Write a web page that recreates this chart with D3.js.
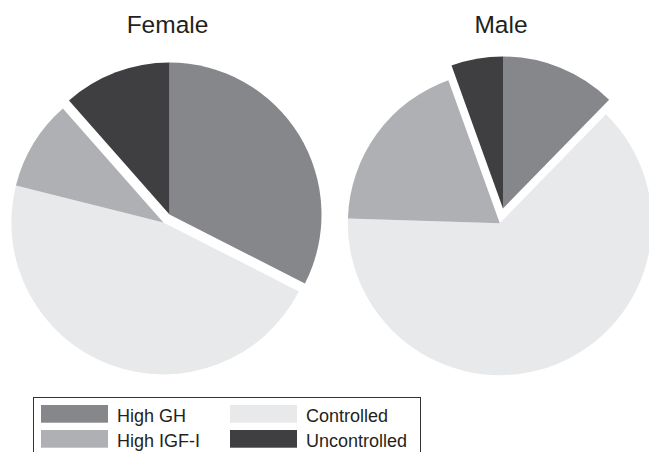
<!DOCTYPE html>
<html>
<head>
<meta charset="utf-8">
<script src="https://cdn.jsdelivr.net/npm/d3@7"></script>
<style>
  html, body { margin: 0; padding: 0; background: #fff; }
  svg { display: block; font-family: "Liberation Sans", Arial, sans-serif; }
</style>
</head>
<body>
<svg id="chart"></svg>
<script>
// categories in drawing order (clockwise from 12 o'clock)
const categories = ["High GH", "Controlled", "High IGF-I", "Uncontrolled"];
const colors = ["#86878b", "#e8e9eb", "#afb0b3", "#3f3f41"];

// percentages
const femaleValues = [32.5, 46.4, 9.6, 11.5];
const maleValues = [12.3, 63.2, 19.0, 5.5];

// slices pulled away from the rest
const pulledOut = ["Controlled", "High IGF-I"];

const width = 649;
const height = 452;
const radius = 152;

const svg = d3.select("#chart")
    .attr("width", width)
    .attr("height", height);

const color = d3.scaleOrdinal(categories, colors);

const pies = [
    { title: "Female", values: femaleValues, cx: 169.5, cy: 214.5, pull: 10 },
    { title: "Male", values: maleValues, cx: 503, cy: 208.5, pull: 15 }
];

const pie = d3.pie().sort(null).value(d => d.value);
const arc = d3.arc().innerRadius(0).outerRadius(radius);

pies.forEach(p => {
    const rows = categories.map((c, i) => ({ name: c, value: p.values[i] }));
    const arcs = pie(rows);

    // direction of the pulled group = middle of its angle span
    const moved = arcs.filter(a => pulledOut.includes(a.data.name));
    const a0 = d3.min(moved, a => a.startAngle);
    const a1 = d3.max(moved, a => a.endAngle);
    const mid = (a0 + a1) / 2;
    const dx = Math.sin(mid) * p.pull;
    const dy = -Math.cos(mid) * p.pull;

    const g = svg.append("g")
        .attr("transform", `translate(${p.cx},${p.cy})`);

    g.selectAll("path")
        .data(arcs)
        .enter().append("path")
        .attr("d", arc)
        .attr("fill", d => color(d.data.name))
        .attr("transform", d => pulledOut.includes(d.data.name) ? `translate(${dx},${dy})` : null);

    svg.append("text")
        .attr("x", p.cx - 2)
        .attr("y", 33)
        .attr("text-anchor", "middle")
        .attr("font-size", 24.5)
        .attr("fill", "#231f20")
        .text(p.title);
});

// legend
const legend = svg.append("g");

legend.append("rect")
    .attr("x", 33.5)
    .attr("y", 397.5)
    .attr("width", 387)
    .attr("height", 80)
    .attr("fill", "none")
    .attr("stroke", "#333")
    .attr("stroke-width", 1);

const colX = d3.scaleOrdinal([0, 1], [41, 230]);

const item = legend.selectAll(".legend-item")
    .data(categories)
    .enter().append("g")
    .attr("class", "legend-item")
    .attr("transform", (d, i) => `translate(${colX(i % 2)},${405 + Math.floor(i / 2) * 25})`);

item.append("rect")
    .attr("width", 67)
    .attr("height", 17.7)
    .attr("fill", d => color(d));

item.append("text")
    .attr("x", 76)
    .attr("y", 17.3)
    .attr("font-size", 18)
    .attr("fill", "#231f20")
    .text(d => d);
</script>
</body>
</html>
